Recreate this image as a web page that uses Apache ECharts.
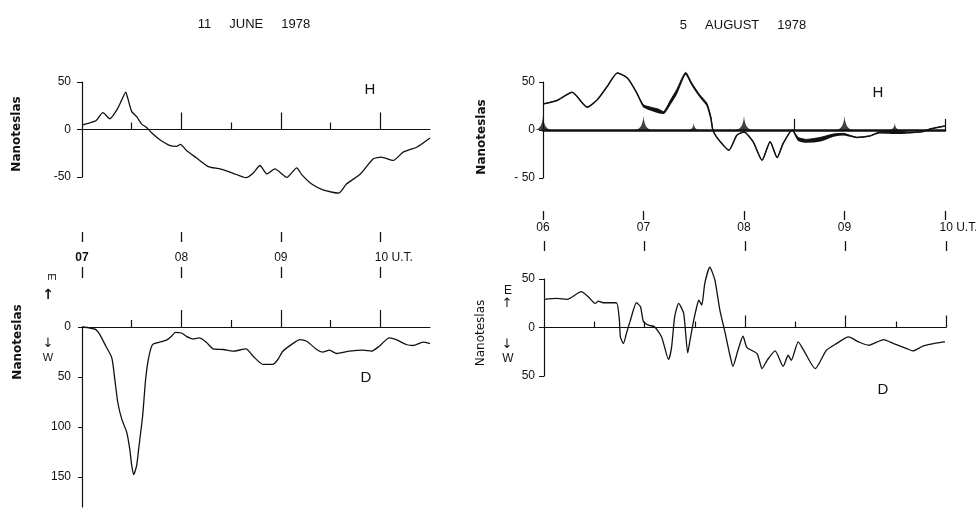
<!DOCTYPE html>
<html>
<head>
<meta charset="utf-8">
<script src="https://cdn.jsdelivr.net/npm/echarts@6/dist/echarts.min.js"></script>
<style>
  html, body { margin: 0; padding: 0; background: #fff; }
  #chart { width: 976px; height: 517px; }
</style>
</head>
<body>
<div id="chart"></div>
<script>
// ---- 11 June 1978 (hours UT, nanoteslas) ----
const juneHTime = [7.00, 7.08, 7.14, 7.21, 7.28, 7.35, 7.40, 7.44, 7.46, 7.50, 7.55, 7.60, 7.65, 7.70, 7.78, 7.88, 7.95, 7.99, 8.05, 8.15, 8.27, 8.39, 8.52, 8.65, 8.72, 8.79, 8.86, 8.94, 9.06, 9.16, 9.21, 9.31, 9.43, 9.58, 9.66, 9.80, 9.93, 10.01, 10.13, 10.23, 10.37, 10.50];
const juneHValue = [4.6, 7.1, 9.2, 17.7, 11.3, 20.6, 31.2, 39.4, 33.0, 18.8, 13.5, 5.7, 2.1, -3.5, -10.6, -16.7, -17.7, -15.6, -22.0, -29.8, -39.0, -41.5, -46.1, -50.7, -46.1, -37.9, -46.8, -41.5, -50.4, -40.4, -47.5, -57.4, -63.8, -67.0, -57.4, -46.8, -30.9, -29.1, -32.6, -23.8, -18.4, -8.9];

// D is counted positive westward (downwards on the plot)
const juneDTime = [7.00, 7.08, 7.14, 7.18, 7.24, 7.30, 7.33, 7.36, 7.40, 7.45, 7.48, 7.50, 7.52, 7.55, 7.57, 7.61, 7.64, 7.67, 7.71, 7.78, 7.85, 7.90, 7.94, 8.00, 8.05, 8.12, 8.18, 8.25, 8.32, 8.42, 8.52, 8.65, 8.72, 8.82, 8.92, 8.97, 9.02, 9.12, 9.19, 9.26, 9.36, 9.42, 9.49, 9.56, 9.69, 9.83, 9.91, 9.99, 10.09, 10.16, 10.26, 10.33, 10.43, 10.50];
const juneDValue = [0.0, 1.0, 2.6, 7.6, 19.2, 30.8, 52.3, 75.5, 92.1, 105.3, 121.9, 138.4, 147.7, 138.4, 121.9, 88.7, 52.3, 30.8, 17.5, 15.2, 13.2, 9.3, 5.3, 6.0, 9.3, 11.9, 10.9, 15.2, 21.9, 22.5, 24.2, 21.9, 29.1, 37.4, 37.4, 32.5, 24.2, 16.6, 12.6, 14.2, 22.5, 25.2, 23.2, 26.5, 24.2, 23.2, 24.2, 19.2, 10.9, 12.6, 17.5, 18.5, 15.2, 16.6];

// ---- 5 August 1978 ----
// H trace is doubled in places: upper and lower edges of the inked band
const augHTime = [6.01, 6.14, 6.29, 6.44, 6.54, 6.64, 6.74, 6.84, 6.93, 7.00, 7.07, 7.15, 7.20, 7.27, 7.33, 7.42, 7.48, 7.56, 7.63, 7.67, 7.69, 7.73, 7.85, 7.93, 8.00, 8.09, 8.18, 8.26, 8.33, 8.39, 8.48, 8.54, 8.62, 8.76, 8.89, 8.99, 9.12, 9.25, 9.35, 9.52, 9.65, 9.78, 9.85, 10.00];
const augHUpper = [27.3, 30.8, 39.2, 23.8, 31.5, 45.5, 59.4, 54.2, 39.2, 26.2, 23.8, 21.7, 19.2, 31.5, 42.0, 60.1, 49.0, 36.7, 28.0, 14.0, 0.0, -7.7, -21.0, -5.2, -2.1, -12.2, -31.5, -12.2, -28.7, -14.0, 0.0, -7.7, -9.8, -7.7, -4.2, -3.5, -7.7, -6.3, -1.7, -0.7, -2.8, -1.7, 1.0, 4.2];
const augHLower = [27.3, 30.8, 39.2, 23.8, 31.5, 45.5, 59.4, 54.2, 39.2, 24.5, 21.0, 18.2, 17.5, 28.0, 38.5, 58.7, 47.6, 35.0, 26.2, 12.2, 0.0, -7.7, -21.0, -5.2, -2.1, -12.2, -31.5, -12.2, -28.7, -14.0, 0.0, -10.5, -12.6, -11.2, -6.3, -4.9, -7.7, -6.3, -2.8, -3.5, -2.8, -1.7, 1.0, 4.2];
// inked cusps on the H baseline
const augCuspTimes = [6, 7, 7.5, 8, 9, 9.5];

// D is counted positive eastward
const augDTime = [6.00, 6.13, 6.23, 6.37, 6.44, 6.51, 6.54, 6.59, 6.72, 6.75, 6.76, 6.79, 6.82, 6.86, 6.92, 6.96, 6.99, 7.04, 7.10, 7.17, 7.24, 7.27, 7.30, 7.34, 7.39, 7.43, 7.45, 7.49, 7.52, 7.54, 7.57, 7.60, 7.65, 7.70, 7.75, 7.80, 7.85, 7.88, 7.93, 7.98, 8.02, 8.12, 8.17, 8.22, 8.30, 8.38, 8.43, 8.46, 8.53, 8.58, 8.70, 8.81, 8.91, 9.03, 9.13, 9.23, 9.38, 9.48, 9.61, 9.67, 9.77, 9.91, 9.99];
const augDValue = [29.0, 30.0, 29.0, 36.9, 31.7, 24.8, 27.2, 25.5, 25.5, 7.6, -9.7, -16.6, -6.2, 7.6, 25.5, 21.4, 5.9, 2.4, 0.7, -9.7, -33.1, -20.0, 11.0, 24.8, 14.5, -26.2, -14.8, 7.6, 21.4, 28.3, 23.1, 45.5, 62.1, 49.0, 17.9, -4.5, -28.6, -40.0, -23.4, -9.0, -20.7, -26.9, -42.4, -33.8, -24.1, -40.0, -28.6, -33.8, -14.8, -22.8, -42.4, -23.4, -16.6, -9.7, -14.8, -18.3, -12.4, -16.6, -21.7, -24.1, -19.3, -15.9, -14.8];

// ---- tick positions and labels ----
const juneHours = [7, 8, 9, 10];
const juneHourLabels = ['07', '08', '09', '10'];
const juneHalfHours = [7.5, 8.5, 9.5];
const augHours = [6, 7, 8, 9, 10];
const augHourLabels = ['06', '07', '08', '09', '10'];
const augShortTicks = [6.5, 7, 7.5, 8.5, 9.5];
const augHBaselineTicks = [8.5, 10];
const unitLabel = 'U.T.';
const juneDTicks = [0, 50, 100, 150];

const INK = '#111';
const FONT = 'Liberation Sans';

const pairs = (xs, ys) => xs.map((x, i) => [x, ys[i]]);

function hourFormatter(hours, labels, boldFirst) {
  return function (v) {
    const i = hours.indexOf(Math.round(v * 100) / 100);
    if (i < 0) return '';
    if (i === hours.length - 1) return '{pad|}' + labels[i] + ' ' + unitLabel;
    if (i === 0 && boldFirst) return '{b|' + labels[i] + '}';
    return labels[i];
  };
}

// axis sitting on the zero line of a panel, carrying upward ticks
function zeroAxis(grid, yIndex, min, max, ticks, len, showLine, lineWidth) {
  return {
    type: 'value', gridIndex: grid, min: min, max: max, position: 'bottom',
    axisLine: { show: showLine, onZero: true, onZeroAxisIndex: yIndex,
      lineStyle: { color: INK, width: lineWidth || 1 } },
    axisTick: { show: true, inside: true, length: len, customValues: ticks,
      lineStyle: { color: INK, width: 1.2 } },
    axisLabel: { show: false },
    splitLine: { show: false }
  };
}

// detached row of hour marks (and optionally hour labels) between panels
function rowAxis(grid, position, offset, min, max, ticks, len, label) {
  return {
    type: 'value', gridIndex: grid, min: min, max: max, position: position, offset: offset,
    axisLine: { show: false, onZero: false },
    axisTick: { show: true, inside: false, length: len, customValues: ticks,
      lineStyle: { color: INK, width: 1.3 } },
    axisLabel: label ? Object.assign({
      show: true, customValues: ticks, color: INK, fontFamily: FONT, fontSize: 12,
      rich: { pad: { width: 27 }, b: { fontWeight: 'bold', fontFamily: FONT, fontSize: 12, color: INK } }
    }, label) : { show: false },
    splitLine: { show: false }
  };
}

function valueYAxis(grid, min, max, extra) {
  return Object.assign({
    type: 'value', gridIndex: grid, min: min, max: max, interval: 50,
    axisLine: { show: true, lineStyle: { color: INK, width: 1.2 } },
    axisTick: { show: true, length: 4, lineStyle: { color: INK } },
    axisLabel: { color: INK, fontFamily: FONT, fontSize: 12, margin: 9 },
    splitLine: { show: false }
  }, extra || {});
}

const cuspPath = 'path://M0,20 C5,19.5 9,16 10,0 C11,16 15,19.5 20,20 Z';
const SMOOTH = 0.2;

const option = {
  animation: false,
  backgroundColor: '#fff',
  textStyle: { fontFamily: FONT },
  title: [
    { text: '11     JUNE     1978', left: 249, top: 13, textAlign: 'center',
      textStyle: { fontFamily: FONT, fontSize: 13, fontWeight: 'normal', color: INK } },
    { text: '5     AUGUST     1978', left: 738, top: 14, textAlign: 'center',
      textStyle: { fontFamily: FONT, fontSize: 13, fontWeight: 'normal', color: INK } }
  ],
  grid: [
    { left: 82, top: 82, width: 348, height: 95, outerBoundsMode: 'none' },
    { left: 82, top: 327, width: 348, height: 180, outerBoundsMode: 'none' },
    { left: 543, top: 82, width: 402, height: 96, outerBoundsMode: 'none' },
    { left: 544, top: 279, width: 402, height: 97, outerBoundsMode: 'none' }
  ],
  xAxis: [
    zeroAxis(0, 0, 7, 10.5, juneHours.slice(1), 17, true, 1),
    zeroAxis(0, 0, 7, 10.5, juneHalfHours, 7, false),
    rowAxis(0, 'bottom', 55, 7, 10.5, juneHours, 10,
      { margin: 20, formatter: hourFormatter(juneHours, juneHourLabels, true) }),
    zeroAxis(1, 1, 7, 10.5, juneHours.slice(1), 17, true, 1.2),
    zeroAxis(1, 1, 7, 10.5, juneHalfHours, 7, false),
    rowAxis(1, 'top', 49, 7, 10.5, juneHours, 11, null),
    zeroAxis(2, 2, 6, 10, augHBaselineTicks, 11, true, 2.6),
    rowAxis(2, 'bottom', 33, 6, 10, augHours, 9,
      { margin: 11, formatter: hourFormatter(augHours, augHourLabels, false) }),
    zeroAxis(3, 3, 6, 10, augHours.slice(2), 12, true, 1.2),
    zeroAxis(3, 3, 6, 10, augShortTicks, 6, false),
    rowAxis(3, 'top', 28, 6, 10, augHours, 10, null)
  ],
  yAxis: [
    valueYAxis(0, -50, 50, {
      axisTick: { show: true, length: 5, lineStyle: { color: INK } },
      axisLabel: { color: INK, fontFamily: FONT, fontSize: 12, margin: 11 }
    }),
    valueYAxis(1, 0, 180, {
      inverse: true,
      axisTick: { show: true, length: 4, customValues: juneDTicks, lineStyle: { color: INK } },
      axisLabel: { color: INK, fontFamily: FONT, fontSize: 12, margin: 11, customValues: juneDTicks }
    }),
    valueYAxis(2, -50, 50, {
      axisLabel: { color: INK, fontFamily: FONT, fontSize: 12, margin: 8,
        formatter: v => (v < 0 ? '- ' + Math.abs(v) : String(v)) }
    }),
    valueYAxis(3, -50, 50, {
      axisTick: { show: true, length: 5, lineStyle: { color: INK } },
      axisLabel: { color: INK, fontFamily: FONT, fontSize: 12, margin: 9,
        formatter: v => String(Math.abs(v)) }
    })
  ],
  series: [
    { name: 'H 11 June', type: 'line', xAxisIndex: 0, yAxisIndex: 0,
      data: pairs(juneHTime, juneHValue), showSymbol: false, smooth: SMOOTH, clip: false,
      lineStyle: { color: INK, width: 1.3 } },
    { name: 'D 11 June', type: 'line', xAxisIndex: 3, yAxisIndex: 1,
      data: pairs(juneDTime, juneDValue), showSymbol: false, smooth: SMOOTH, clip: false,
      lineStyle: { color: INK, width: 1.3 } },
    { name: 'H 5 August band', type: 'custom', coordinateSystem: 'cartesian2d',
      xAxisIndex: 6, yAxisIndex: 2, data: [0], clip: false, silent: true,
      renderItem: function (params, api) {
        const pts = [];
        augHTime.forEach((t, i) => pts.push(api.coord([t, augHUpper[i]])));
        for (let i = augHTime.length - 1; i >= 0; i--) pts.push(api.coord([augHTime[i], augHLower[i]]));
        return { type: 'polygon', shape: { points: pts, smooth: 0.15 }, style: { fill: INK } };
      } },
    { name: 'H 5 August lower', type: 'line', xAxisIndex: 6, yAxisIndex: 2,
      data: pairs(augHTime, augHLower), showSymbol: false, smooth: SMOOTH, clip: false,
      lineStyle: { color: INK, width: 1.5 } },
    { name: 'H 5 August upper', type: 'line', xAxisIndex: 6, yAxisIndex: 2,
      data: pairs(augHTime, augHUpper), showSymbol: false, smooth: SMOOTH, clip: false,
      lineStyle: { color: INK, width: 1.0 } },
    { name: 'H 5 August cusps', type: 'scatter', xAxisIndex: 6, yAxisIndex: 2,
      data: augCuspTimes.map(t => [t, 0]), clip: false, silent: true,
      symbol: cuspPath,
      symbolSize: v => (v[0] % 1 === 0 ? [18, 14] : [12, 7]),
      symbolOffset: [0, '-50%'],
      itemStyle: { color: INK } },
    { name: 'D 5 August', type: 'line', xAxisIndex: 8, yAxisIndex: 3,
      data: pairs(augDTime, augDValue), showSymbol: false, smooth: SMOOTH, clip: false,
      lineStyle: { color: INK, width: 1.3 } }
  ],
  graphic: [
    { type: 'text', x: 17, y: 134, rotation: Math.PI / 2,
      style: { text: 'Nanoteslas', font: 'bold 12px "DejaVu Sans"', fill: INK, align: 'center', verticalAlign: 'middle' } },
    { type: 'text', x: 18, y: 342, rotation: Math.PI / 2,
      style: { text: 'Nanoteslas', font: 'bold 12px "DejaVu Sans"', fill: INK, align: 'center', verticalAlign: 'middle' } },
    { type: 'text', x: 482, y: 137, rotation: Math.PI / 2,
      style: { text: 'Nanoteslas', font: 'bold 12px "DejaVu Sans"', fill: INK, align: 'center', verticalAlign: 'middle' } },
    { type: 'text', x: 481, y: 333, rotation: Math.PI / 2,
      style: { text: 'Nanoteslas', font: '12px "DejaVu Sans"', fill: INK, align: 'center', verticalAlign: 'middle' } },

    { type: 'text', x: 370, y: 90,
      style: { text: 'H', font: '15px "Liberation Sans"', fill: INK, align: 'center', verticalAlign: 'middle' } },
    { type: 'text', x: 366, y: 378,
      style: { text: 'D', font: '15px "Liberation Sans"', fill: INK, align: 'center', verticalAlign: 'middle' } },
    { type: 'text', x: 878, y: 93,
      style: { text: 'H', font: '15px "Liberation Sans"', fill: INK, align: 'center', verticalAlign: 'middle' } },
    { type: 'text', x: 883, y: 390,
      style: { text: 'D', font: '15px "Liberation Sans"', fill: INK, align: 'center', verticalAlign: 'middle' } },

    { type: 'text', x: 51, y: 277, rotation: -Math.PI / 2,
      style: { text: 'E', font: '11px "Liberation Sans"', fill: INK, align: 'center', verticalAlign: 'middle' } },
    { type: 'text', x: 48, y: 295,
      style: { text: '↑', font: 'bold 14px "DejaVu Sans"', fill: INK, align: 'center', verticalAlign: 'middle' } },
    { type: 'text', x: 48, y: 344,
      style: { text: '↓', font: '13px "DejaVu Sans"', fill: INK, align: 'center', verticalAlign: 'middle' } },
    { type: 'text', x: 48, y: 358,
      style: { text: 'W', font: '11px "Liberation Sans"', fill: INK, align: 'center', verticalAlign: 'middle' } },

    { type: 'text', x: 508, y: 291,
      style: { text: 'E', font: '12px "Liberation Sans"', fill: INK, align: 'center', verticalAlign: 'middle' } },
    { type: 'text', x: 507, y: 304,
      style: { text: '↑', font: '13px "DejaVu Sans"', fill: INK, align: 'center', verticalAlign: 'middle' } },
    { type: 'text', x: 507, y: 345,
      style: { text: '↓', font: '13px "DejaVu Sans"', fill: INK, align: 'center', verticalAlign: 'middle' } },
    { type: 'text', x: 508, y: 359,
      style: { text: 'W', font: '12px "Liberation Sans"', fill: INK, align: 'center', verticalAlign: 'middle' } }
  ]
};

const chart = echarts.init(document.getElementById('chart'), null, { renderer: 'canvas' });
chart.setOption(option);
</script>
</body>
</html>
